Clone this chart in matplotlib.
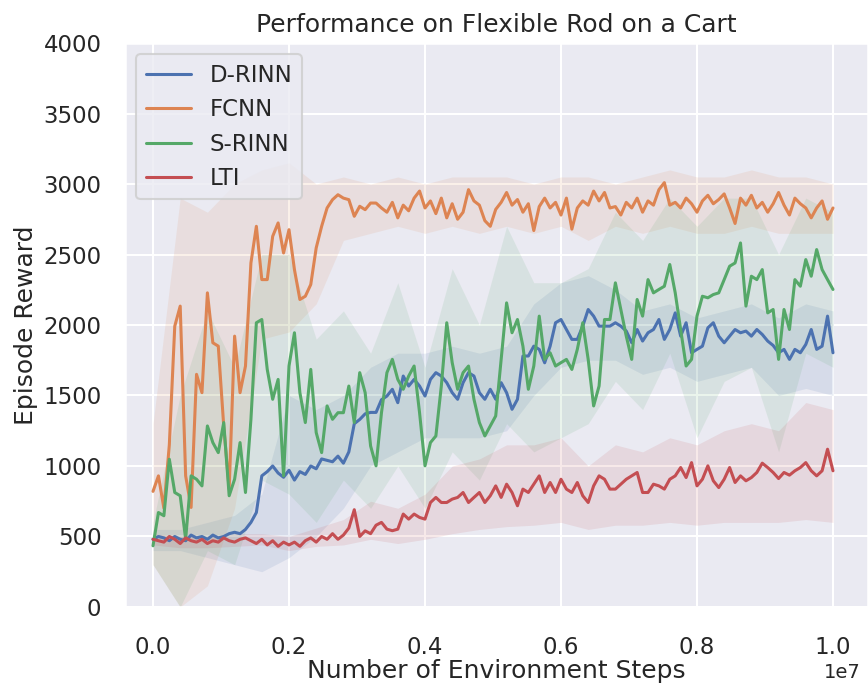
import matplotlib
matplotlib.use("Agg")
import matplotlib.pyplot as plt
import seaborn as sns
import numpy as np

# mean episode reward, one value every 80k steps (0 .. 1e7)
step = 80000
d_rinn = [480, 500, 490, 470, 500, 480, 470, 510, 490, 500, 480, 510, 490, 500, 520, 530, 520, 550, 600, 670,
          930, 960, 1000, 950, 920, 970, 900, 960, 940, 1000, 980, 1050, 1040, 1030, 1070, 1020, 1100, 1300, 1330, 1370,
          1380, 1380, 1470, 1496, 1544, 1449, 1638, 1567, 1614, 1567, 1496, 1614, 1662, 1638, 1591, 1520, 1473, 1591, 1662, 1638,
          1520, 1473, 1544, 1473, 1591, 1520, 1402, 1473, 1780, 1780, 1850, 1827, 1732, 1850, 2016, 2039, 1968, 1898, 1898, 1992,
          2110, 2063, 1992, 1992, 1992, 2016, 1992, 1957, 1874, 1968, 1886, 1945, 1968, 2039, 1898, 1968, 2086, 1921, 2016, 1803,
          1827, 1850, 1980, 2016, 1921, 1874, 1921, 1968, 1945, 1957, 1921, 1968, 1933, 1886, 1855, 1803, 1827, 1756, 1827, 1803,
          1862, 1968, 1827, 1850, 2063, 1803]
fcnn = [820, 930, 700, 1150, 1992, 2134, 930, 706, 1650, 1520, 2228, 1874, 1850, 1284, 836, 1921, 1520, 1709, 2440, 2700,
        2322, 2322, 2629, 2724, 2511, 2676, 2393, 2181, 2204, 2287, 2547, 2700, 2830, 2889, 2924, 2900, 2889, 2771, 2842, 2818,
        2865, 2865, 2830, 2800, 2870, 2760, 2850, 2810, 2900, 2950, 2830, 2880, 2790, 2900, 2760, 2860, 2750, 2800, 2960, 2880,
        2850, 2740, 2700, 2820, 2870, 2940, 2850, 2890, 2800, 2860, 2670, 2840, 2900, 2830, 2870, 2780, 2900, 2680, 2830, 2880,
        2850, 2950, 2880, 2940, 2830, 2840, 2780, 2870, 2830, 2900, 2800, 2880, 2850, 2960, 3010, 2850, 2870, 2830, 2900, 2860,
        2800, 2880, 2920, 2860, 2890, 2930, 2830, 2720, 2900, 2850, 2920, 2830, 2870, 2800, 2860, 2940, 2850, 2780, 2900, 2860,
        2830, 2760, 2830, 2880, 2750, 2830]
s_rinn = [434, 670, 647, 1048, 812, 789, 482, 930, 906, 859, 1284, 1166, 1095, 1308, 789, 906, 1166, 812, 1331, 2016,
          2039, 1685, 1473, 1614, 930, 1709, 1945, 1520, 1308, 1685, 1237, 1095, 1426, 1331, 1378, 1378, 1567, 1308, 1662, 1520,
          1142, 1001, 1378, 1662, 1756, 1614, 1544, 1638, 1709, 1378, 1001, 1166, 1213, 1567, 2016, 1733, 1544, 1662, 1709, 1473,
          1308, 1213, 1284, 1355, 1756, 2157, 1945, 2039, 1850, 1544, 1709, 2063, 1756, 1803, 1709, 1733, 1756, 1685, 1827, 2016,
          1756, 1426, 1567, 2039, 2039, 2299, 2110, 1921, 1756, 2181, 2063, 2322, 2228, 2252, 2275, 2429, 2228, 1968, 1709, 1756,
          2063, 2204, 2193, 2216, 2228, 2322, 2417, 2440, 2582, 2134, 2346, 2322, 2393, 2086, 2110, 1756, 2110, 1968, 2322, 2275,
          2464, 2346, 2535, 2393, 2322, 2252]
lti = [480, 470, 460, 500, 480, 450, 490, 470, 460, 480, 450, 470, 460, 490, 470, 460, 480, 490, 470, 450,
       480, 440, 470, 430, 460, 440, 460, 430, 470, 490, 460, 500, 480, 520, 480, 510, 560, 690, 500, 540,
       520, 580, 600, 552, 541, 552, 659, 623, 659, 635, 623, 741, 777, 741, 741, 765, 777, 812, 741, 777,
       812, 741, 789, 859, 777, 871, 812, 718, 836, 812, 871, 930, 812, 883, 812, 906, 836, 812, 883, 789,
       741, 859, 930, 906, 836, 836, 871, 906, 930, 954, 812, 812, 871, 859, 836, 906, 930, 989, 918, 1024,
       859, 906, 1001, 895, 847, 906, 989, 883, 930, 895, 918, 954, 1020, 989, 954, 911, 954, 935, 966, 989,
       1024, 966, 930, 966, 1119, 966]

# spread over seeds, one value every 400k steps
band_step = 400000
d_rinn_lo = [400, 400, 350, 300, 250, 350, 500, 700, 1000, 1100, 1200, 1200, 1200, 1250, 1500, 1700, 1750, 1750, 1650, 1700, 1600, 1650, 1700, 1500, 1550, 1500]
d_rinn_hi = [550, 550, 600, 650, 800, 1500, 1400, 1500, 1700, 1800, 1800, 1850, 1800, 1850, 2150, 2300, 2350, 2250, 2100, 2150, 2050, 2100, 2150, 2050, 2150, 2100]
fcnn_lo = [300, 0, 150, 700, 1900, 1950, 2150, 2600, 2650, 2700, 2650, 2700, 2650, 2700, 2650, 2700, 2600, 2700, 2650, 2700, 2650, 2650, 2700, 2650, 2650, 2650]
fcnn_hi = [1300, 2900, 2800, 3000, 3100, 3150, 3000, 3050, 3000, 3050, 3000, 3050, 3050, 3050, 3000, 3050, 3050, 3000, 3050, 3100, 3050, 3050, 3100, 3050, 3050, 3000]
s_rinn_lo = [300, 0, 400, 300, 900, 800, 600, 900, 700, 1000, 700, 1100, 900, 1300, 1100, 1200, 1300, 1600, 1400, 1800, 1200, 1600, 1700, 1100, 1800, 1700]
s_rinn_hi = [600, 1500, 2100, 1700, 2500, 2500, 1900, 2100, 1800, 2300, 1700, 2400, 2000, 2700, 2300, 2300, 2400, 2800, 2600, 2900, 2700, 2900, 2900, 2500, 2900, 2800]
lti_lo = [440, 420, 420, 430, 440, 400, 430, 440, 480, 450, 480, 520, 550, 570, 580, 600, 550, 580, 580, 600, 580, 600, 600, 600, 620, 600]
lti_hi = [520, 500, 500, 520, 520, 500, 560, 620, 750, 700, 800, 1000, 1050, 1150, 1150, 1200, 1000, 1150, 1100, 1200, 1150, 1250, 1300, 1250, 1450, 1400]

labels = ["D-RINN", "FCNN", "S-RINN", "LTI"]

sns.set_theme(context="talk", style="darkgrid")
colors = sns.color_palette("deep")

fig = plt.figure(figsize=(8.68, 6.84), dpi=100)
ax = fig.add_axes([0.144, 0.1126, 0.856, 0.8245])

x = np.arange(len(d_rinn)) * step
bx = np.arange(len(d_rinn_lo)) * band_step
series = [(d_rinn, d_rinn_lo, d_rinn_hi), (fcnn, fcnn_lo, fcnn_hi),
          (s_rinn, s_rinn_lo, s_rinn_hi), (lti, lti_lo, lti_hi)]

# faint spread first, mean lines on top
for (mean, lo, hi), c in zip(series, colors):
    ax.fill_between(bx, lo, hi, color=c, alpha=0.12, linewidth=0)
for (mean, lo, hi), lab, c in zip(series, labels, colors):
    ax.plot(x, mean, color=c, linewidth=2.2, label=lab)

ax.set_xlim(-0.0412e7, 1.0515e7)
ax.set_ylim(0, 4000)
ax.set_yticks(np.arange(0, 4001, 500))
ax.set_xticks(np.arange(0, 1.01e7, 0.2e7))
ax.tick_params(axis="y", pad=8)
ax.tick_params(axis="x", pad=12)
# keep the "1e7" inside the canvas
offset = ax.xaxis.get_offset_text()
offset.set_x(0.99)
offset.set_fontsize(14)

ax.set_title("Performance on Flexible Rod on a Cart", pad=8)
ax.set_xlabel("Number of Environment Steps", labelpad=0)
ax.set_ylabel("Episode Reward")
ax.legend(loc="upper left")

fig.savefig("out.png", dpi=100)
plt.close(fig)
